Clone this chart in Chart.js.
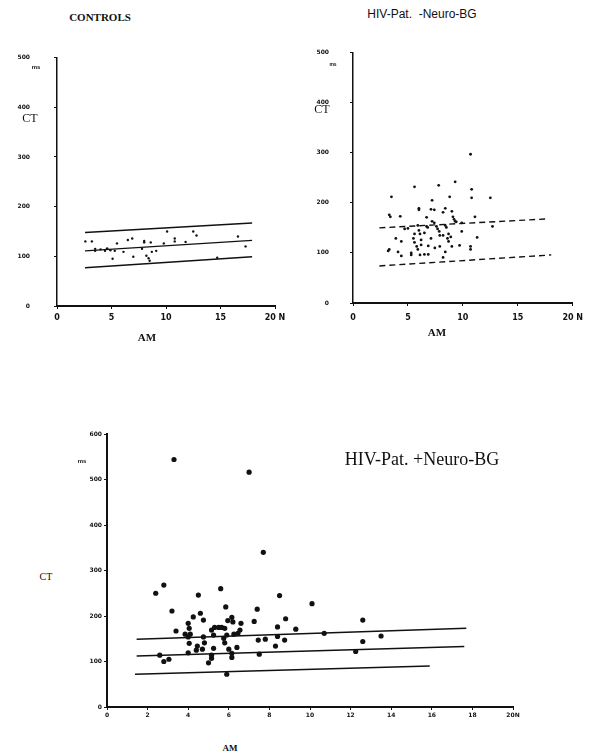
<!DOCTYPE html>
<html>
<head>
<meta charset="utf-8">
<script src="https://cdn.jsdelivr.net/npm/chart.js@4.4.1/dist/chart.umd.min.js"></script>
<style>
body{
    margin:0;
    background:#fff;
    width:590px;
    height:755px;
    position:relative;
    overflow:hidden;
}
canvas{ position:absolute; }
.lbl{
    position:absolute;
    transform:translate(-50%,-50%);
    white-space:nowrap;
    color:#111;
    line-height:1;
}
.serif{ font-family:"Liberation Serif","DejaVu Serif",serif; }
.sans{ font-family:"Liberation Sans","DejaVu Sans",sans-serif; }
</style>
</head>
<body>

<canvas id="graficoControls" width="290" height="320" style="left:0;top:30px"></canvas>
<canvas id="graficoSemNeuro" width="295" height="320" style="left:295px;top:28px"></canvas>
<canvas id="graficoNeuro" width="480" height="320" style="left:60px;top:420px"></canvas>

<div class="lbl serif" style="left:100px;top:17px;font-size:11px;font-weight:bold">CONTROLS</div>
<div class="lbl sans" style="left:36px;top:67px;font-size:6px;font-weight:bold">ms</div>
<div class="lbl serif" style="left:30px;top:118px;font-size:12px">CT</div>
<div class="lbl serif" style="left:147px;top:337px;font-size:11px;font-weight:bold">AM</div>

<div class="lbl sans" style="left:422px;top:14px;font-size:12px">HIV-Pat.&nbsp; -Neuro-BG</div>
<div class="lbl sans" style="left:333px;top:64px;font-size:5px;font-weight:bold">ms</div>
<div class="lbl serif" style="left:322px;top:109px;font-size:12px">CT</div>
<div class="lbl serif" style="left:437px;top:332px;font-size:11px;font-weight:bold">AM</div>

<div class="lbl serif" style="left:422px;top:459px;font-size:18px">HIV-Pat. +Neuro-BG</div>
<div class="lbl sans" style="left:82px;top:461px;font-size:6px;font-weight:bold">ms</div>
<div class="lbl serif" style="left:46px;top:577px;font-size:10px">CT</div>
<div class="lbl serif" style="left:230px;top:748px;font-size:9px;font-weight:bold">AM</div>

<script>
// ==========================
// DADOS
// ==========================
const controlsAM = [
    2.6,3.2,3.5,3.5,4.0,4.4,4.6,4.9,5.1,5.3,
    5.5,6.1,6.5,6.9,7.0,7.8,8.0,8.0,8.2,8.4,
    8.5,8.6,8.7,9.1,9.8,10.1,10.8,10.8,11.8,12.5,
    12.8,14.7,16.6,17.3
];
const controlsCT = [
    130,130,111,115,114,111,116,112,95,111,
    126,109,133,136,99,115,131,128,101,96,
    91,128,109,111,126,150,136,130,129,150,
    142,97,140,120
];

const semNeuroAM = [
    10.7,5.6,7.8,9.3,10.8,3.5,8.8,10.8,12.5,7.2,
    6.0,6.0,7.1,7.4,8.4,8.2,9.0,3.3,3.4,4.3,
    6.7,9.1,9.2,9.3,11.1,7.2,7.4,9.4,9.9,6.7,
    6.8,5.9,7.6,7.7,8.4,8.5,9.9,12.7,4.7,5.0,
    6.0,6.1,5.6,7.85,7.9,8.7,8.9,3.9,4.4,5.5,
    5.6,6.2,6.2,7.1,8.6,8.7,9.7,10.7,10.7,11.3,
    5.8,5.9,6.85,7.9,7.45,3.2,4.1,5.3,5.3,6.1,
    6.5,6.85,8.2,4.4,8.4,9.0,3.3,6.5,8.2
];
const semNeuroCT = [
    297,232,235,242,227,212,212,210,210,205,
    189,186,187,186,189,181,183,176,172,173,
    171,172,167,163,172,163,160,162,160,153,
    151,155,153,148,155,151,143,153,148,149,
    145,138,138,143,135,138,132,129,123,129,
    121,126,116,129,129,123,115,113,107,131,
    113,107,114,113,110,104,102,96,100,96,
    97,97,91,94,102,113,107,140,135
];

const neuroAM = [
    3.3,7.0,7.7,2.4,2.8,4.5,5.6,8.5,10.1,3.2,
    5.85,7.4,4.6,4.25,4.75,4.0,4.05,5.95,6.15,6.2,
    7.25,6.6,8.8,12.6,3.4,3.85,4.1,4.0,5.15,5.3,
    5.5,5.65,5.8,6.45,6.55,6.25,5.9,5.25,4.75,8.4,
    9.3,10.7,13.5,8.4,7.45,7.8,8.75,5.75,5.8,4.8,
    4.05,4.45,4.7,4.4,4.0,5.25,6.0,6.4,6.15,6.15,
    5.15,5.15,5.0,7.5,8.3,2.6,2.8,3.05,12.25,12.6,
    5.9
];
const neuroCT = [
    544,516,340,250,268,246,260,245,227,211,
    220,215,206,198,191,184,173,190,197,187,
    188,184,194,191,167,160,160,154,169,175,
    175,175,173,162,169,160,158,158,154,176,
    171,162,156,155,147,149,147,151,141,141,
    140,134,127,125,119,129,127,131,118,109,
    114,107,97,116,134,114,100,105,122,144,
    72
];

// faixas normais: [x inicio, x fim] e [y inicio, y fim]
const controlsLinhaX = [2.57, 17.9];
const controlsSup = [148, 167];
const controlsMed = [111, 132];
const controlsInf = [77, 99];

const semNeuroSupX = [2.4, 17.75];
const semNeuroSup = [150, 168];
const semNeuroInfX = [2.4, 18.05];
const semNeuroInf = [74, 96];

const neuroSupX = [1.46, 17.7];
const neuroSup = [149, 173];
const neuroMedX = [1.46, 17.6];
const neuroMed = [112, 133];
const neuroInfX = [1.38, 15.9];
const neuroInf = [72, 90];

const ticksTopX = [0, 5, 10, 15, 20];
const ticksTopY = [0, 100, 200, 300, 400, 500];
const ticksNeuroX = [0, 2, 4, 6, 8, 10, 12, 14, 16, 18, 20];
const ticksNeuroY = [0, 100, 200, 300, 400, 500, 600];

// ==========================
// AUXILIARES
// ==========================
function pontos(xs, ys){
    return xs.map((x, i) => ({ x:x, y:ys[i] }));
}

function linha(xs, ys, dash, largura){
    return {
        data:pontos(xs, ys),
        showLine:true,
        borderColor:"#111",
        borderWidth:largura,
        borderDash:dash,
        pointRadius:0,
        fill:false
    };
}

function criarGrafico(id, caixa, datasets, eixos){

    const fonte = (size) => ({
        family:"DejaVu Sans",
        size:size,
        weight:"bold"
    });

    new Chart(document.getElementById(id).getContext("2d"),{

        type:"scatter",

        data:{ datasets:datasets },

        options:{
            responsive:false,
            animation:false,
            events:[],
            layout:{ padding:caixa.padding },
            plugins:{
                legend:{ display:false },
                tooltip:{ enabled:false }
            },
            scales:{
                x:{
                    type:"linear",
                    min:0,
                    max:20,
                    afterFit:(s) => { s.height = caixa.xHeight; },
                    afterBuildTicks:(s) => {
                        s.ticks = eixos.xTicks.map(v => ({ value:v }));
                    },
                    border:{ display:true, color:"#111", width:eixos.xBorder },
                    grid:{
                        display:true,
                        drawOnChartArea:false,
                        drawTicks:true,
                        tickLength:3,
                        color:"#111"
                    },
                    ticks:{
                        color:"#111",
                        font:fonte(eixos.xFont),
                        padding:eixos.xPad,
                        maxRotation:0,
                        autoSkip:false,
                        callback:(v) => v === 20 ? eixos.ultimo : v
                    }
                },
                y:{
                    type:"linear",
                    min:0,
                    max:eixos.yMax,
                    afterFit:(s) => { s.width = caixa.yWidth; },
                    afterBuildTicks:(s) => {
                        s.ticks = eixos.yTicks.map(v => ({ value:v }));
                    },
                    border:{ display:true, color:"#111", width:eixos.yBorder },
                    grid:{
                        display:true,
                        drawOnChartArea:false,
                        drawTicks:true,
                        tickLength:3,
                        color:"#111"
                    },
                    ticks:{
                        color:"#111",
                        font:fonte(eixos.yFont),
                        padding:eixos.yPad,
                        autoSkip:false
                    }
                }
            }
        }
    });
}

// ==========================
// CONTROLS
// ==========================
criarGrafico(
    "graficoControls",
    { padding:{ left:0, right:15, top:11, bottom:14 }, yWidth:57, xHeight:30 },
    [
        {
            data:pontos(controlsAM, controlsCT),
            backgroundColor:"#111",
            borderWidth:0,
            pointRadius:1.2
        },
        linha(controlsLinhaX, controlsSup, [], 1.4),
        linha(controlsLinhaX, controlsMed, [], 1.4),
        linha(controlsLinhaX, controlsInf, [], 1.4)
    ],
    {
        xTicks:ticksTopX, yTicks:ticksTopY, yMax:500, ultimo:"20 N",
        xFont:8, yFont:6, xPad:4, yPad:24, xBorder:2, yBorder:1.5
    }
);

// ==========================
// HIV -NEURO
// ==========================
criarGrafico(
    "graficoSemNeuro",
    { padding:{ left:0, right:17, top:11, bottom:15 }, yWidth:58, xHeight:30 },
    [
        {
            data:pontos(semNeuroAM, semNeuroCT),
            backgroundColor:"#111",
            borderWidth:0,
            pointRadius:1.4
        },
        linha(semNeuroSupX, semNeuroSup, [6,4], 1.4),
        linha(semNeuroInfX, semNeuroInf, [6,4], 1.4)
    ],
    {
        xTicks:ticksTopX, yTicks:ticksTopY, yMax:500, ultimo:"20 N",
        xFont:8, yFont:6, xPad:7, yPad:21, xBorder:2, yBorder:1.5
    }
);

// ==========================
// HIV +NEURO
// ==========================
criarGrafico(
    "graficoNeuro",
    { padding:{ left:0, right:27, top:14, bottom:8 }, yWidth:47, xHeight:25 },
    [
        {
            data:pontos(neuroAM, neuroCT),
            backgroundColor:"#111",
            borderWidth:0,
            pointRadius:2.6
        },
        linha(neuroSupX, neuroSup, [], 1.6),
        linha(neuroMedX, neuroMed, [], 1.6),
        linha(neuroInfX, neuroInf, [], 1.6)
    ],
    {
        xTicks:ticksNeuroX, yTicks:ticksNeuroY, yMax:600, ultimo:"20N",
        xFont:6, yFont:6, xPad:2, yPad:2, xBorder:2, yBorder:2
    }
);
</script>
</body>
</html>
